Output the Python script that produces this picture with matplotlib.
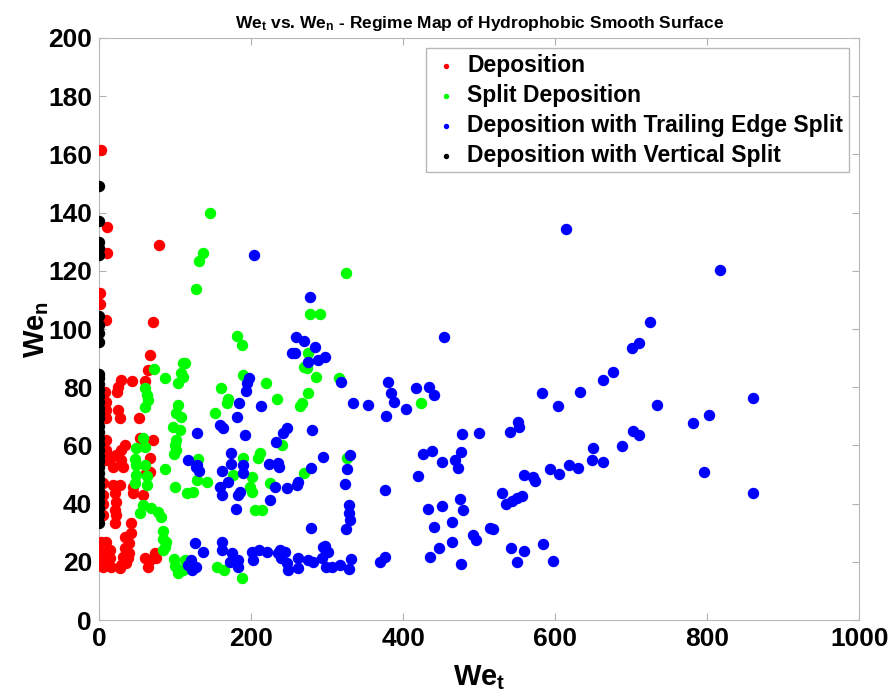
import numpy as np
import matplotlib.pyplot as plt

# Regime map data (We_t, We_n)
dep_x = [2, 11, 10, 79, 1, 1, 9, 70.6, 67, 65,
         29, 43, 60.5, 25, 23, 8, 9.6, 9.6, 9.6, 25, 27, 53, 54, 71, 34, 29.4, 22.8, 16,
         9.6, 9.6, 9.6, 66.7, 66.7, 29.4, 31.6, 18.4, 62,
         18.4, 27, 20.6, 22.8, 20.6, 22.8, 44.7, 44.7, 58, 5, 5, 5, 5, 20.6, 42.5, 42.5, 40,
         34, 3, 9.6, 3, 9.6, 5, 5, 14, 14, 16, 33.8, 31.6, 29.4, 27, 40, 38, 36,
         73.3, 75.4, 66.7, 60, 64.5]
dep_y = [161.5, 135, 126, 128.9, 112.3, 108.6, 103, 102.5, 91, 86,
         82.5, 82, 82, 80, 78.5, 78.5, 75, 72, 69.3, 72, 69.3, 69.4, 62.5, 61.9, 60.1, 58.4, 56.7, 56,
         61.9, 58.4, 55, 55.7, 51, 55, 52.7, 52.7, 50.4,
         46.4, 46.4, 43.5, 40.7, 37.8, 36, 45.8, 43.5, 43, 47, 43, 40, 36, 33.2, 33.4, 30, 26.5,
         28.6, 26.9, 26.9, 23.5, 22.9, 20.6, 18.3, 24, 21.3, 18.3, 24.6, 21.7, 18.9, 17.8, 23, 21.3, 19.6,
         22.9, 21.2, 20.6, 21.2, 18.3]

split_x = [146, 136.4, 132, 127, 325, 278, 291, 181, 188.6, 275, 269, 274, 285.5, 315.8, 189, 220,
           160, 233.8, 275, 266.7, 264.5, 170, 168, 152.6, 240.4, 211.8, 209.6, 190, 130.6, 269,
           326, 423.7, 128.5, 124, 141.7, 198.7, 201, 201, 176.7, 225, 205, 214, 155, 164, 188,
           110.5, 113, 107.5, 110.5, 104, 86.4, 72, 60, 63.6, 64.5, 60, 104, 101.7, 108.3, 97.4,
           106, 101.7, 99.6, 101.7, 98.7, 49, 60, 58, 47, 49, 60, 48, 63.5, 47, 63.6, 86.4,
           100, 115.4, 58, 53.5, 69, 78, 82, 84, 84, 88.5, 86.4, 84, 98, 100, 104, 110, 113, 116]
split_y = [140, 126.2, 123.5, 113.6, 119.4, 105.2, 105.2, 97.7, 94.5, 91.9, 87, 86.5, 83.4, 83, 84.2, 81.5,
           79.8, 76, 78.1, 74.7, 73.5, 75.8, 74.5, 71.3, 60, 57.3, 55.6, 55.8, 55.2, 50.4,
           55.8, 74.7, 48, 44, 47.5, 45.8, 44, 49, 49.8, 47, 37.8, 37.8, 18.3, 17.2, 14.5,
           88.3, 88.2, 85, 83.5, 81.4, 83, 86.3, 79.6, 77.3, 75.6, 73.3, 73.9, 71, 69.9, 66.4,
           65.3, 61.9, 60.1, 58.4, 57, 59, 59.6, 62.4, 55.5, 53.3, 53.3, 49.8, 49.5, 47, 46.4, 51.8,
           45.8, 43.5, 39.5, 36.7, 38.4, 37.2, 35.5, 30.5, 28, 26.9, 25.2, 24, 21, 18.5, 16, 17.2, 20.6, 17.8]

trail_x = [204, 615, 817.5, 454, 724.6, 700.9, 710.5, 663.6, 676.7, 582.5, 632.9, 603.5, 734, 861,
           782, 802, 551.7, 553, 541, 500, 702, 711, 650.4, 688, 648.7, 663.6, 618.4, 630, 593.4,
           605.3, 559.6, 570.7, 574, 530.7, 535, 543, 549.6, 557, 796.5, 860, 518.8, 541.7, 559.6,
           550, 583.8, 597,
           278, 258.8, 269.7, 284, 253.5, 258, 275, 288.5, 297.4, 318.4, 334.6, 354.3, 380.7, 383.8,
           388.6, 403.6, 377.6, 417, 434, 441, 477, 426.7, 437.7, 450.9, 468.4, 472.8, 475.9, 420,
           376, 330, 326.7, 323.7, 329.4, 329.4, 330, 325, 433, 451.7, 475, 479.4, 464.9, 440.8,
           447, 464, 492.5, 496, 435.5, 475.9, 514.5, 369.7, 376.3,
           197.8, 195, 193.4, 184.6, 212.8, 182, 159, 163.6, 128.5, 192, 247, 242.5, 233, 280.7,
           173.7, 173.7, 189, 224, 235, 237, 128.5, 132, 161.4, 189, 279, 294, 117, 128, 159,
           161.4, 170, 183, 185.5, 231.6, 247, 260, 262, 180, 225, 278.5,
           126, 137, 121, 117, 128, 122, 161.4, 161.4, 172.4, 183, 183, 174.6, 201, 210, 220.6,
           203, 236, 238, 245, 240, 247, 249, 262, 262, 275, 282, 293, 299, 299, 297.4, 301.7,
           306, 317, 331, 329.4, 295]
trail_y = [125.3, 134.4, 120.2, 97.4, 102.4, 93.4, 95.1, 82.6, 85.3, 78.1, 78.5, 73.5, 73.8, 76.4,
           67.6, 70.4, 68.1, 66.2, 64.7, 64.2, 64.9, 63.6, 59.2, 59.9, 55, 54.4, 53.3, 52.3, 51.8,
           50.2, 49.8, 49, 47.9, 43.7, 39.9, 41, 41.8, 42.6, 51, 43.7, 31.3, 24.7, 23.6,
           20, 26.2, 20.3,
           110.9, 97.2, 96, 93.7, 91.6, 91.6, 88.8, 89.3, 90.3, 81.7, 74.7, 73.9, 81.9, 78.1,
           75, 72.4, 70.1, 79.8, 80.2, 77.3, 63.9, 57, 58.2, 54.2, 55, 52.1, 57.8, 49.5,
           44.6, 56.7, 51.8, 46.6, 39.5, 36.7, 34.4, 31.4, 38.1, 39.3, 41.7, 37.8, 33.8, 32.1,
           24.6, 26.9, 29.2, 27.5, 21.8, 19.1, 31.5, 20, 21.8,
           83, 81.5, 78.8, 74.7, 73.5, 69.9, 67, 66.1, 64.4, 63.6, 65.9, 64.2, 61.3, 65.3,
           57.5, 53.5, 53.3, 53.5, 53.8, 52.7, 53.3, 51.3, 51.2, 50.4, 52.1, 56.1, 55, 52.7, 45.8,
           43, 47.5, 43, 44, 45.8, 45.3, 46.4, 47.5, 38.1, 41.2, 31.5,
           26.5, 23.5, 20.6, 18.9, 18.3, 17.2, 26.9, 24, 20, 20.6, 18.3, 22.9, 23.5, 24, 23.5,
           20.6, 22.9, 24, 23.5, 21.2, 19.5, 17.2, 21.2, 17.8, 20.6, 20, 21.2, 23.5, 18.3, 25.4, 23.5,
           18.1, 18.9, 20.8, 17.5, 25.2]

vert_y = [149, 137, 130, 128, 125.5, 104.5, 101.5, 98.5, 95.5,
          84.5, 83, 81, 79, 77, 75, 73, 71, 69.5,
          66.5, 64.5, 62.5, 60.5, 58.5, 56.5, 54.5, 52.5, 50.5, 48.5, 46.5, 44.5, 42.5, 40.5,
          38.5, 36, 33.5]
vert_x = [0] * len(vert_y)

plt.rcParams['font.family'] = ['Liberation Sans', 'DejaVu Sans']
plt.rcParams['mathtext.fontset'] = 'custom'
plt.rcParams['mathtext.rm'] = 'Liberation Sans:bold'
plt.rcParams['mathtext.default'] = 'rm'

fig = plt.figure(figsize=(8.89, 6.98), dpi=100)
ax = fig.add_axes([0.1114, 0.1117, 0.855, 0.8339])

ms = 52
ax.scatter(dep_x, dep_y, s=ms, c='#ff0000', label='Deposition', zorder=3)
ax.scatter(split_x, split_y, s=ms, c='#00ff00', label='Split Deposition', zorder=3)
ax.scatter(trail_x, trail_y, s=ms, c='#0000ff', label='Deposition with Trailing Edge Split', zorder=3)
ax.scatter(vert_x, vert_y, s=ms, c='#000000', label='Deposition with Vertical Split', zorder=3)

ax.set_xlim(0, 1000)
ax.set_ylim(0, 200)
ax.set_xticks(np.arange(0, 1001, 200))
ax.set_yticks(np.arange(0, 201, 20))
ax.tick_params(direction='in', top=True, right=True, length=5, color='#b0b0b0',
               labelsize=19, pad=5)
for lab in ax.get_xticklabels() + ax.get_yticklabels():
    lab.set_fontweight('bold')
for sp in ax.spines.values():
    sp.set_color('#b8b8b8')

ax.set_xlabel('We$_t$', fontsize=21, fontweight='bold', labelpad=9)
ax.set_ylabel('We$_n$', fontsize=21, fontweight='bold', labelpad=-2)
ax.set_title('We$_t$ vs. We$_n$ - Regime Map of Hydrophobic Smooth Surface',
             fontsize=12.5, fontweight='bold', family=['Liberation Sans Narrow', 'Liberation Sans'],
             pad=7)

leg = ax.legend(loc='upper right', prop={'weight': 'bold', 'size': 16.5},
                markerscale=0.4, handletextpad=0.25, borderpad=0.25, labelspacing=0.3,
                fancybox=False, framealpha=1, edgecolor='#b8b8b8', borderaxespad=0.45,
                handlelength=1.3)
leg.get_frame().set_linewidth(1)

fig.savefig('out.png', dpi=100)
